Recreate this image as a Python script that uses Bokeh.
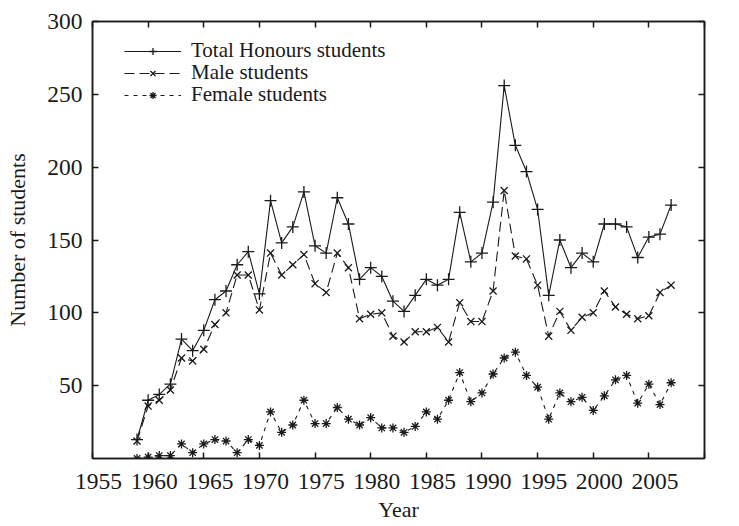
from bokeh.plotting import figure
from bokeh.models import LinearAxis, Range1d, FixedTicker, Legend, LegendItem
from bokeh.embed import file_html
from bokeh.resources import INLINE

years = list(range(1959, 2008))
total = [13, 40, 44, 51, 82, 74, 88, 109, 115, 133, 142, 113, 177, 148, 159, 183, 146, 141, 179, 161,
         123, 131, 125, 108, 101, 112, 123, 119, 123, 169, 135, 141, 176, 256, 215, 197, 171, 112, 150, 131,
         141, 135, 161, 161, 159, 138, 152, 154, 174]
male = [12, 36, 40, 47, 69, 67, 75, 92, 100, 126, 126, 102, 141, 126, 133, 140, 120, 114, 141, 131,
        96, 99, 100, 84, 80, 87, 87, 90, 80, 107, 94, 94, 115, 184, 139, 137, 119, 84, 101, 88,
        97, 100, 115, 104, 99, 96, 98, 114, 119]
female = [0, 1, 2, 2, 10, 4, 10, 13, 12, 4, 13, 9, 32, 18, 23, 40, 24, 24, 35, 27,
          23, 28, 21, 21, 18, 22, 32, 27, 40, 59, 39, 45, 58, 69, 73, 57, 49, 27, 45, 39,
          42, 33, 43, 54, 57, 38, 51, 37, 52]

x_ticks = [1955, 1960, 1965, 1970, 1975, 1980, 1985, 1990, 1995, 2000, 2005, 2010]
y_ticks = [50, 100, 150, 200, 250, 300]
series_names = ["Total Honours students", "Male students", "Female students"]

FONT = "Liberation Serif"
INK = "#1a1a1a"
TICK_FS = "23.5px"

p = figure(width=730, height=524, output_backend="svg", toolbar_location=None,
           x_range=Range1d(1955, 2010), y_range=Range1d(0, 300),
           x_axis_location=None, y_axis_location=None,
           min_border_left=92, min_border_right=26, min_border_top=21, min_border_bottom=65)
p.extra_x_ranges = {"lab": Range1d(1955 - 0.55, 2010 - 0.55)}
p.grid.visible = False
p.outline_line_color = INK
p.outline_line_width = 1.5
p.background_fill_color = "white"
p.border_fill_color = "white"

def tick_axis(axis, ticks):
    axis.ticker = FixedTicker(ticks=ticks)
    axis.major_label_overrides = {t: "" for t in ticks}
    axis.major_label_text_font_size = "1px"
    axis.major_label_standoff = 0
    axis.major_tick_in = 6
    axis.major_tick_out = 0
    axis.minor_tick_line_color = None
    axis.major_tick_line_color = INK
    axis.major_tick_line_width = 1.5
    axis.axis_line_color = INK
    axis.axis_line_width = 1.5

# bottom ticks (no labels)
bt = LinearAxis()
tick_axis(bt, x_ticks)
p.add_layout(bt, "below")
# bottom labels (shifted slightly, as in the reference)
bl = LinearAxis(x_range_name="lab", ticker=FixedTicker(ticks=x_ticks))
bl.axis_line_color = None
bl.major_tick_line_color = None
bl.minor_tick_line_color = None
bl.major_tick_in = 0
bl.major_tick_out = 0
bl.major_label_standoff = 15
bl.major_label_text_font = FONT
bl.major_label_text_font_size = TICK_FS
bl.major_label_text_color = INK
bl.axis_label = "Year"
bl.axis_label_text_font = FONT
bl.axis_label_text_font_size = "22px"
bl.axis_label_text_font_style = "normal"
bl.axis_label_text_color = INK
bl.axis_label_standoff = 5
p.add_layout(bl, "below")

# left axis
la = LinearAxis(ticker=FixedTicker(ticks=y_ticks))
la.major_tick_in = 6
la.major_tick_out = 0
la.minor_tick_line_color = None
la.major_tick_line_color = INK
la.major_tick_line_width = 1.5
la.axis_line_color = INK
la.axis_line_width = 1.5
la.major_label_standoff = 10
la.major_label_text_font = FONT
la.major_label_text_font_size = TICK_FS
la.major_label_text_color = INK
la.axis_label = "Number of students"
la.axis_label_text_font = FONT
la.axis_label_text_font_size = "22px"
la.axis_label_text_font_style = "normal"
la.axis_label_text_color = INK
la.axis_label_standoff = 14
p.add_layout(la, "left")

ta = LinearAxis()
tick_axis(ta, x_ticks)
p.add_layout(ta, "above")
ra = LinearAxis()
tick_axis(ra, y_ticks)
p.add_layout(ra, "right")

styles = [
    dict(dash="solid", marker="cross", size=12),
    dict(dash="10 5", marker="x", size=10),
    dict(dash="4 5", marker="asterisk", size=9),
]
legend_bottoms = [395, 373, 351]
for name, vals, st, lb in zip(series_names, [total, male, female], styles, legend_bottoms):
    ln = p.line(years, vals, line_color=INK, line_width=1.1, line_dash=st["dash"])
    sc = p.scatter(years, vals, marker=st["marker"], size=st["size"], line_color=INK,
                   fill_color=INK, line_width=1.3)
    legend = Legend(items=[LegendItem(label=name, renderers=[ln, sc])], location=(32, lb))
    legend.border_line_color = None
    legend.background_fill_alpha = 0
    legend.padding = 0
    legend.margin = 0
    legend.spacing = 0
    legend.glyph_width = 57
    legend.glyph_height = 18
    legend.label_height = 18
    legend.label_standoff = 10
    legend.label_text_font = FONT
    legend.label_text_font_size = "21px"
    legend.label_text_color = INK
    p.add_layout(legend, "center")

open("out.html", "w").write(file_html(p, INLINE))
